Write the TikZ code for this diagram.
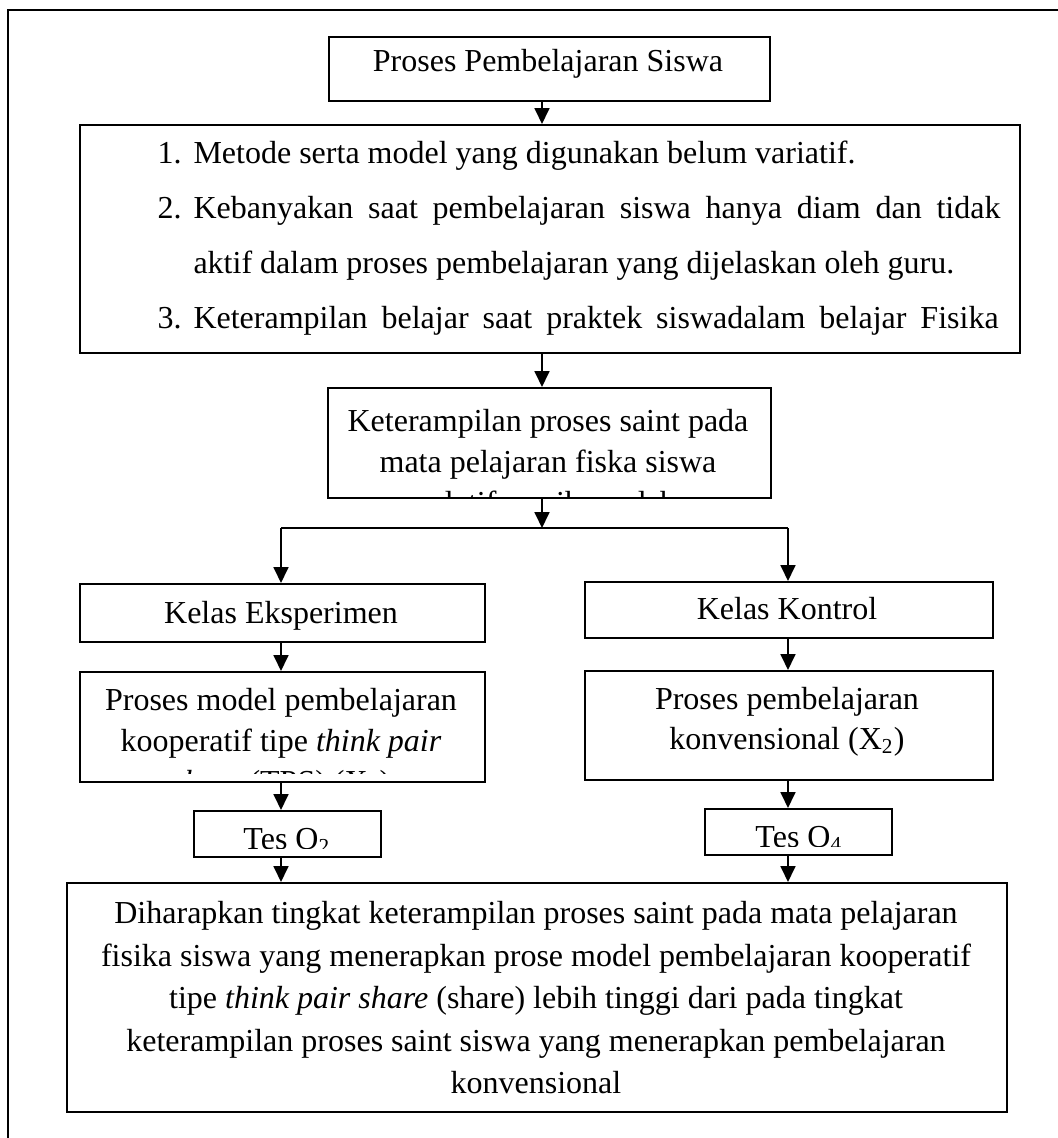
\documentclass[tikz,border=0pt]{standalone}
\usepackage{fontspec}
\setmainfont{Liberation Serif}
\usetikzlibrary{arrows.meta,calc}
\newcommand\mkbox[5]{\node[box,minimum width=#4*0.375pt,minimum height=#5*0.375pt] (#1) at (#2,#3) {};}
\begin{document}
\begin{tikzpicture}[x=0.375pt,y=-0.375pt,
  box/.style={draw,line width=0.75pt,inner sep=0pt,anchor=north west},
  txt/.style={anchor=base,inner sep=0pt,font=\fontsize{12}{14}\selectfont},
  txtw/.style={txt,anchor=base west},
  arr/.style={line width=0.75pt,-{Triangle[length=6pt,width=5.6pt]}},
  ln/.style={line width=0.75pt}]
\useasboundingbox (0,0) rectangle (1058,1138);
% outer frame
\coordinate (fa) at (8,1160);
\coordinate (fb) at (8,10);
\coordinate (fc) at (1080,10);
\draw[line width=0.7pt] (fa) -- (fb) -- (fc);
% boxes
\mkbox{b1}{328}{36}{441}{64}
\mkbox{b2}{79}{124}{940}{228}
\mkbox{b3}{327}{387}{443}{110}
\mkbox{b4}{79}{583}{405}{58}
\mkbox{b5}{584}{581}{408}{56}
\mkbox{b6}{79}{671}{405}{110}
\mkbox{b7}{584}{670}{408}{109}
\mkbox{b8}{193}{810}{187}{46}
\mkbox{b9}{704}{808}{187}{46}
\mkbox{b10}{66}{882}{940}{229}
% texts
\node[txt] (t1) at (548,71) {Proses Pembelajaran Siswa};
\node[txtw] (n1) at (157,163) {1.};
\node[txtw] (l1) at (193,163) {Metode serta model yang digunakan belum variatif.};
\node[txtw] (n2) at (157,218) {2.};
\node[txtw] (l2) at (193,218) {\makebox[302.6pt][s]{Kebanyakan saat pembelajaran siswa hanya diam dan tidak}};
\node[txtw] (l3) at (193,273) {aktif dalam proses pembelajaran yang dijelaskan oleh guru.};
\node[txtw] (n3) at (157,328) {3.};
\node[txtw] (l4) at (193,328) {\makebox[301.9pt][s]{Keterampilan belajar saat praktek siswadalam belajar Fisika}};
\begin{scope}
\clip (b3.north west) rectangle ($(b3.south east)+(0,-3)$);
\node[txt] (t3a) at (548,431) {Keterampilan proses saint pada};
\node[txt] (t3b) at (548,472) {mata pelajaran fiska siswa};
\node[txt] (t3c) at (548,513) {relatif masih rendah};
\end{scope}
\node[txt] (t4) at (281,623) {Kelas Eksperimen};
\node[txt] (t5) at (787,619) {Kelas Kontrol};
\begin{scope}
\clip (b6.north west) rectangle ($(b6.south east)+(0,-10)$);
\node[txt] (t6a) at (281,710) {Proses model pembelajaran};
\node[txt] (t6b) at (281,751) {kooperatif tipe \textit{think pair}};
\node[txt] (t6c) at (281,792) {\textit{share} (TPS) (X\textsubscript{1})};
\end{scope}
\node[txt] (t7a) at (787,709) {Proses pembelajaran};
\node[txt] (t7b) at (787,749) {konvensional (X\textsubscript{2})};
\begin{scope}
\clip (b8.north west) rectangle ($(b8.south east)+(0,-10)$);
\node[txt] (t8) at (287,849) {Tes O\textsubscript{2}};
\end{scope}
\begin{scope}
\clip (b9.north west) rectangle ($(b9.south east)+(0,-10)$);
\node[txt] (t9) at (799,847) {Tes O\textsubscript{4}};
\end{scope}
\node[txt] (t10a) at (536,923) {Diharapkan tingkat keterampilan proses saint pada mata pelajaran};
\node[txt] (t10b) at (536,966) {fisika siswa yang menerapkan prose model pembelajaran kooperatif};
\node[txt] (t10c) at (536,1008) {tipe \textit{think pair share} (share) lebih tinggi dari pada tingkat};
\node[txt] (t10d) at (536,1051) {keterampilan proses saint siswa yang menerapkan pembelajaran};
\node[txt] (t10e) at (536,1093) {konvensional};
% connectors
\coordinate (xC) at (542,0);
\coordinate (xL) at (281,0);
\coordinate (xR) at (788,0);
\coordinate (br) at (542,528);
\coordinate (brL) at (281,528);
\coordinate (brR) at (788,528);
\draw[arr] (b1.south -| xC) -- (b2.north -| xC);
\draw[arr] (b2.south -| xC) -- (b3.north -| xC);
\draw[arr] (b3.south -| xC) -- (br);
\draw[ln] (brL) -- (brR);
\draw[arr] (brL) -- (b4.north -| brL);
\draw[arr] (brR) -- (b5.north -| brR);
\draw[arr] (b4.south -| xL) -- (b6.north -| xL);
\draw[arr] (b5.south -| xR) -- (b7.north -| xR);
\draw[arr] (b6.south -| xL) -- (b8.north -| xL);
\draw[arr] (b7.south -| xR) -- (b9.north -| xR);
\draw[arr] (b8.south -| xL) -- (b10.north -| xL);
\draw[arr] (b9.south -| xR) -- (b10.north -| xR);
\end{tikzpicture}
\end{document}
